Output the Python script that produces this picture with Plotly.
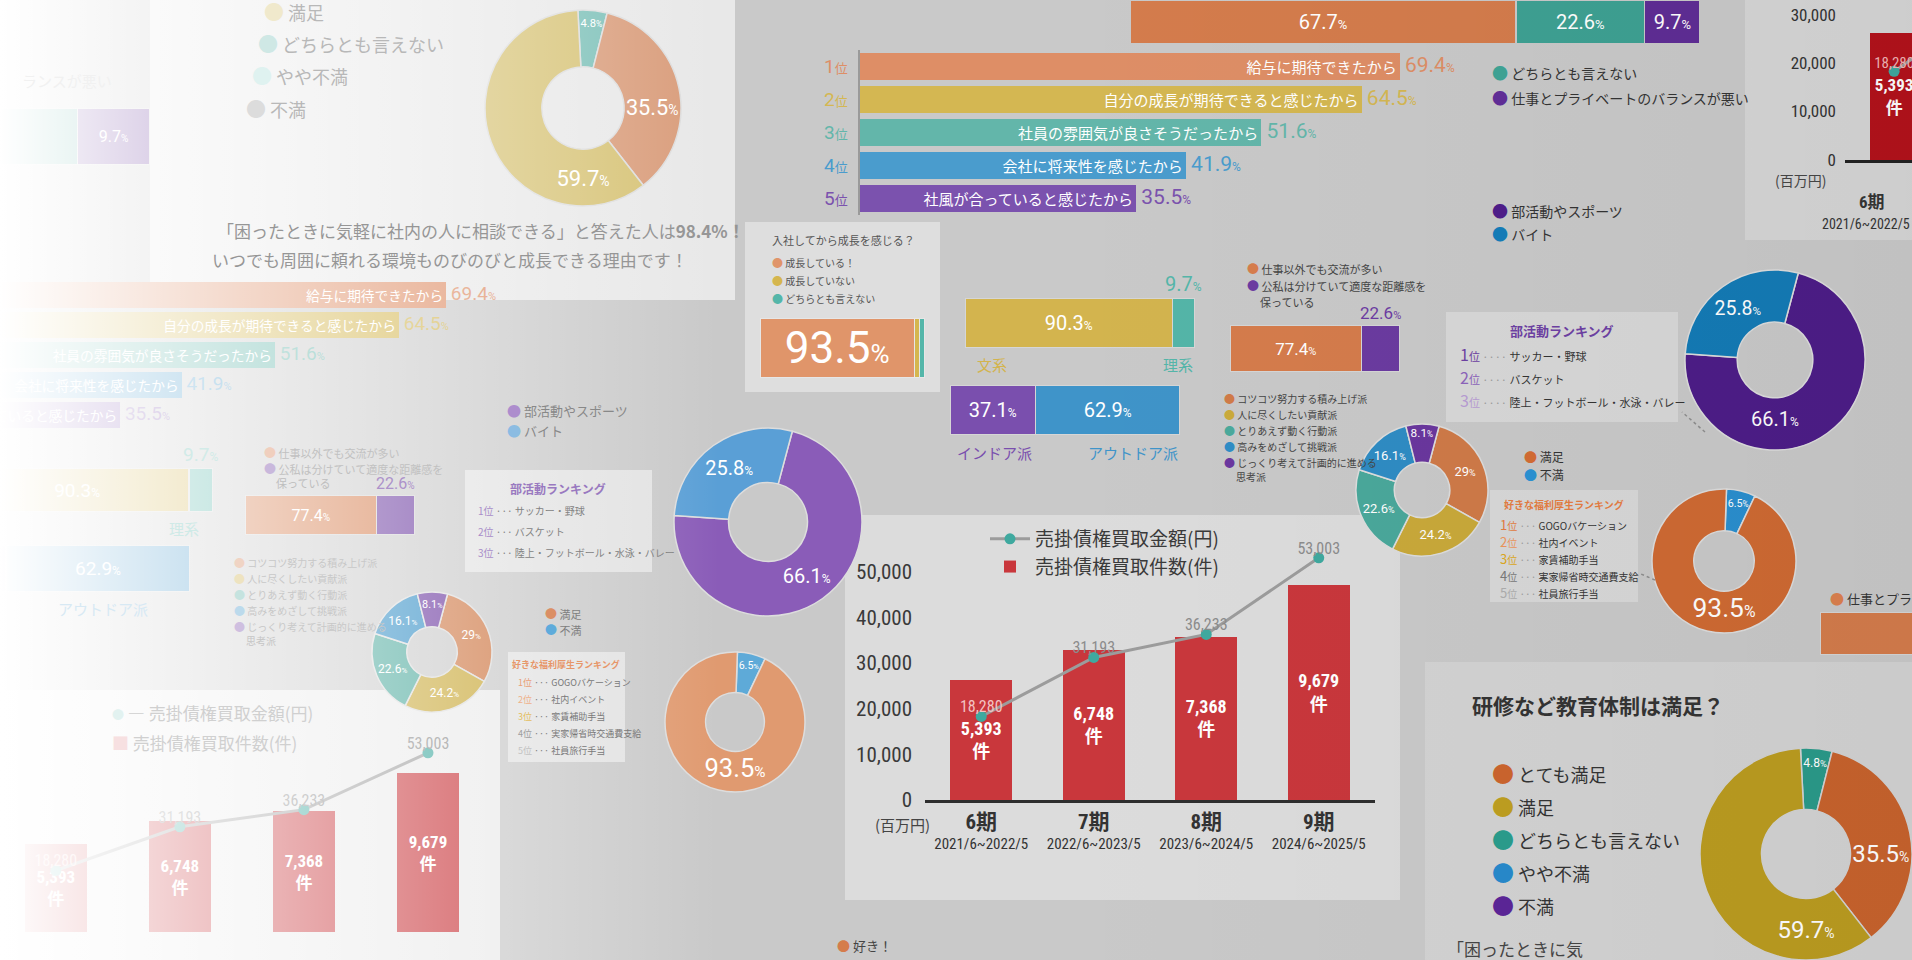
import base64
import plotly.graph_objects as go

W, H = 1912, 960
JP = "Noto Sans CJK JP, Noto Sans, sans-serif"
NUM = "Liberation Sans Narrow, Roboto Condensed, Roboto, Noto Sans CJK JP, sans-serif"
PCT = "Roboto, Noto Sans CJK JP, sans-serif"

# ---------------- data ----------------
periods = ["6期", "7期", "8期", "9期"]
period_ranges = ["2021/6~2022/5", "2022/6~2023/5", "2023/6~2024/5", "2024/6~2025/5"]
purchase_amount = [18280, 31193, 36233, 53003]   # 売掛債権買取金額
purchase_count = [5393, 6748, 7368, 9679]       # 売掛債権買取件数
amount_ticks = [0, 10000, 20000, 30000, 40000, 50000]
COUNT_PER_AMOUNT = 9679 / 47000                  # bar scale

reason_ranks = ["1位", "2位", "3位", "4位", "5位"]
reason_labels = ["給与に期待できたから", "自分の成長が期待できると感じたから",
                 "社員の雰囲気が良さそうだったから", "会社に将来性を感じたから",
                 "社風が合っていると感じたから"]
reason_values = [69.4, 64.5, 51.6, 41.9, 35.5]

balance_labels = ["バランスが良い", "どちらとも言えない", "仕事とプライベートのバランスが悪い"]
balance_values = [67.7, 22.6, 9.7]

growth_labels = ["成長している！", "成長していない", "どちらとも言えない"]
growth_values = [93.5, 3.2, 3.3]

major_labels = ["文系", "理系"]
major_values = [90.3, 9.7]
style_labels = ["インドア派", "アウトドア派"]
style_values = [37.1, 62.9]

relation_labels = ["仕事以外でも交流が多い", "公私は分けていて適度な距離感を", "保っている"]
relation_values = [77.4, 22.6]

type_labels = ["コツコツ努力する積み上げ派", "人に尽くしたい貢献派", "とりあえず動く行動派",
               "高みをめざして挑戦派", "じっくり考えて計画的に進める", "思考派"]
type_values = [29, 24.2, 22.6, 16.1, 8.1]

club_labels = ["部活動やスポーツ", "バイト"]
club_values = [66.1, 25.8]
club_rank = ["サッカー・野球", "バスケット", "陸上・フットボール・水泳・バレー"]

welfare_labels = ["満足", "不満"]
welfare_values = [93.5, 6.5]
welfare_rank = ["GOGOバケーション", "社内イベント", "家賃補助手当", "実家帰省時交通費支給", "社員旅行手当"]

training_title = "研修など教育体制は満足？"
training_labels = ["とても満足", "満足", "どちらとも言えない", "やや不満", "不満"]
training_pie_labels = ["どちらとも言えない", "とても満足", "満足"]
training_pie_values = [4.8, 35.5, 59.7]

# ---------------- colours ----------------
rank_colors = ["#de8e66", "#d4b752", "#63b6aa", "#4a9ccd", "#7b52ae"]
balance_colors = ["#d47c4c", "#3ea193", "#5f2d95"]
growth_colors = ["#e0956a", "#d5b64e", "#54b6a9"]
major_colors = ["#d3b44e", "#54b5a8"]
style_colors = ["#7a4fae", "#3f94c9"]
relation_colors = ["#d57c4c", "#6b3ba0"]
type_colors = ["#cf7a48", "#c9a93a", "#4aa89b", "#2f8cc4", "#6a379e"]
club_colors = ["#4d1d88", "#147bb6"]
club_colors_light = ["#8a5cb8", "#5a9fd6"]
welfare_colors = ["#cf6a33", "#2a8fcf"]
welfare_colors_light = ["#e09a70", "#5eaad8"]
training_colors = ["#c8632d", "#bb9c20", "#2a9a8a", "#2787c8", "#5a2595"]
training_pie_colors = ["#2a9a8a", "#c8632d", "#bb9c20"]
soft_pie_colors = ["#7cc0b8", "#d99c7a", "#d6c274"]
rank5_colors = ["#e07a40", "#e8925a", "#d9a520", "#777777", "#aaaaaa"]


def fade(color, x):
    a = max(0.0, min(1.0, 1 - x / 720))
    c = color.lstrip("#")
    r, g, b = int(c[0:2], 16), int(c[2:4], 16), int(c[4:6], 16)
    r, g, b = (round(v + (255 - v) * a) for v in (r, g, b))
    return f"#{r:02x}{g:02x}{b:02x}"


def pct(v, small):
    return f"{v}<span style='font-size:{small}px'>%</span>"


fig = go.Figure()
axes = {}
ctr = [0]
annotations = []
shapes = []


def ax_key(ref):
    return ref[0] + "axis" + ref[1:]


def new_axes(x0, x1, y0, y1, xr, yr, xtype=None):
    ctr[0] += 1
    s = "" if ctr[0] == 1 else str(ctr[0])
    axes["xaxis" + s] = dict(domain=[max(0, x0 / W), min(1, x1 / W)], anchor="y" + s, range=xr,
                             visible=False, fixedrange=True, showgrid=False, zeroline=False,
                             automargin=False)
    if xtype:
        axes["xaxis" + s]["type"] = xtype
    axes["yaxis" + s] = dict(domain=[max(0, 1 - y1 / H), min(1, 1 - y0 / H)], anchor="x" + s, range=yr,
                             visible=False, fixedrange=True, showgrid=False, zeroline=False,
                             automargin=False)
    return "x" + s, "y" + s


def overlay_axis(xa, ya, yr):
    ctr[0] += 1
    s = str(ctr[0])
    axes["yaxis" + s] = dict(overlaying=ya, anchor=xa, range=yr, visible=False, fixedrange=True,
                             showgrid=False, zeroline=False, automargin=False)
    return "y" + s


def txt(x, y, s, size=14, color="#444444", anchor="left", family=JP, yanchor="middle", fx=None):
    c = fade(color, x if fx is None else fx)
    annotations.append(dict(x=x / W, y=1 - y / H, xref="paper", yref="paper", text=s, showarrow=False,
                            xanchor=anchor, yanchor=yanchor, font=dict(size=size, color=c, family=family)))


def dot(color, size, x):
    return f"<span style='color:{fade(color, x)};font-size:{size}px'>●</span>"


def card(x0, y0, x1, y1, color):
    shapes.append(dict(type="rect", xref="paper", yref="paper", x0=x0 / W, x1=x1 / W, y0=1 - y1 / H,
                       y1=1 - y0 / H, fillcolor=color, line=dict(width=0), layer="below"))


def combo_chart(x0, x1, y0, y1, xr, amt_range, bar_color, bar_font, label_font, label_colors,
                legend=False, clip=True, bar_width=0.55):
    xa, ya = new_axes(x0, x1, y0, y1, xr,
                      [amt_range[0] * COUNT_PER_AMOUNT, amt_range[1] * COUNT_PER_AMOUNT], xtype="category")
    yb = overlay_axis(xa, ya, amt_range)
    fig.add_trace(go.Scatter(x=periods, y=purchase_amount, xaxis=xa, yaxis=yb, mode="lines+markers",
                             name="売掛債権買取金額(円)", line=dict(color="#9c9c9c", width=3),
                             marker=dict(color="#3fa99f", size=11), showlegend=legend, hoverinfo="skip"))
    fig.add_trace(go.Bar(x=periods, y=purchase_count, xaxis=xa, yaxis=ya, name="売掛債権買取件数(件)",
                         marker=dict(color=bar_color, line=dict(width=0)), width=bar_width,
                         text=[f"<b>{c:,}<br>件</b>" for c in purchase_count], textposition="inside",
                         insidetextanchor="middle", textangle=0,
                         textfont=dict(color="white", size=bar_font, family=NUM),
                         showlegend=legend, hoverinfo="skip"))
    fig.add_trace(go.Scatter(x=periods, y=purchase_amount, xaxis=xa, yaxis=yb, mode="text",
                             text=[f"{v:,}" for v in purchase_amount], textposition="top center",
                             textfont=dict(color=label_colors, size=label_font, family=NUM),
                             cliponaxis=clip, showlegend=False, hoverinfo="skip"))
    return xa, ya, yb


def hstack(x0, x1, y0, y1, xr, values, colors, texts, tsize, line="#d6d6d6"):
    xa, ya = new_axes(x0, x1, y0, y1, xr, [-0.5, 0.5])
    for v, c, t in zip(values, colors, texts):
        fig.add_trace(go.Bar(x=[v], y=[0], orientation="h", xaxis=xa, yaxis=ya, width=1,
                             marker=dict(color=c, line=dict(color=line, width=1.5)), text=[t],
                             textposition="inside" if t else "none", insidetextanchor="middle",
                             textangle=0, textfont=dict(color="white", size=tsize, family=PCT),
                             showlegend=False, hoverinfo="skip"))
    return xa, ya


def donut(values, colors, texts, cx, cy, r, rotation, tsize, hole=0.42, line="#dddddd"):
    fig.add_trace(go.Pie(values=values, sort=False, direction="clockwise", rotation=rotation, hole=hole,
                         marker=dict(colors=colors, line=dict(color=line, width=1.5)), text=texts,
                         textinfo="text", textposition="inside", insidetextorientation="horizontal",
                         textfont=dict(color="white", size=tsize, family=PCT), automargin=False,
                         domain=dict(x=[max(0, (cx - r) / W), min(1, (cx + r) / W)],
                                     y=[max(0, 1 - (cy + r) / H), min(1, 1 - (cy - r) / H)]),
                         showlegend=False, hoverinfo="skip"))


def ranking(x0, x1, y0, y1, xr, tsize, lsize, show_ranks):
    xa, ya = new_axes(x0, x1, y0, y1, xr, [4.5, -0.5])
    idx = list(range(len(reason_values)))
    fig.add_trace(go.Bar(x=reason_values, y=idx, orientation="h", xaxis=xa, yaxis=ya, width=0.84,
                         marker=dict(color=rank_colors, line=dict(width=0)), text=reason_labels,
                         textposition="inside", insidetextanchor="end", textangle=0,
                         textfont=dict(color="white", size=tsize, family=JP), showlegend=False,
                         hoverinfo="skip"))
    fig.add_trace(go.Scatter(x=reason_values, y=idx, mode="text", xaxis=xa, yaxis=ya,
                             text=[" " + pct(v, int(lsize * 0.6)) for v in reason_values],
                             textposition="middle right",
                             textfont=dict(color=rank_colors, size=lsize, family=PCT),
                             cliponaxis=False, showlegend=False, hoverinfo="skip"))
    if show_ranks:
        axes[ax_key(ya)].update(visible=True, showline=True, linecolor="#9a9a9a", linewidth=2,
                                showticklabels=False, ticks="")
        for i, (r, c) in enumerate(zip(reason_ranks, rank_colors)):
            annotations.append(dict(xref="paper", yref=ya, x=850 / W, y=i,
                                    text=f"<span style='font-size:19px'>{r[0]}</span>{r[1:]}",
                                    showarrow=False, xanchor="right",
                                    font=dict(size=13, color=c, family=PCT)))
    return xa, ya


def ax_label(xa, ya, x, y, s, size, color, yanchor="bottom"):
    annotations.append(dict(xref=xa, yref=ya, x=x, y=y, text=s, showarrow=False, yanchor=yanchor,
                            font=dict(size=size, color=color, family=PCT)))


# ---------------- cards (backgrounds) ----------------
card(150, 0, 735, 300, "#e8e8e8")
card(0, 690, 500, 960, "#ebebeb")
card(465, 470, 652, 572, "#e2e2e2")
card(508, 652, 625, 762, "#e2e2e2")
card(745, 222, 940, 392, "#dedede")
card(845, 515, 1400, 900, "#dcdcdc")
card(1446, 312, 1678, 422, "#d8d8d8")
card(1490, 490, 1638, 602, "#d8d8d8")
card(1745, 0, 1912, 240, "#d6d6d6")
card(1425, 662, 1912, 960, "#d3d3d3")

# ---------------- top-left card (faded) ----------------
donut(training_pie_values, soft_pie_colors,
      [pct(v, 14) for v in training_pie_values], 583, 108, 98, -3, [18, 22, 22])
for i, (lab, c) in enumerate(zip(["満足", "どちらとも言えない", "やや不満", "不満"],
                                 ["#d6c274", "#7cc0b8", "#a8dad6", "#a0a0a0"])):
    txt(262 - 6 * i, 12 + 32 * i, dot(c, 20, 262) + " " + lab, size=18, color="#555555", fx=300)
txt(215, 230, "「困ったときに気軽に社内の人に相談できる」と答えた人は<b>98.4%！</b>", size=17,
    color="#505050", fx=430)
txt(210, 260, "いつでも周囲に頼れる環境ものびのびと成長できる理由です！", size=17, color="#505050", fx=430)
txt(20, 80, "ランスが悪い", size=15, color="#555555", fx=60)
hstack(0, 150, 108, 165, [80, 100], balance_values, balance_colors, ["", "", pct(9.7, 10)], 16)

# ---------------- left faded copies ----------------
ranking(0, 500, 280, 430, [23, 75], 15, 19, False)
txt(505, 410, dot(club_colors_light[0], 14, 505) + " " + club_labels[0], size=13, color="#555555")
txt(505, 430, dot(club_colors_light[1], 14, 505) + " " + club_labels[1], size=13, color="#555555")

xa, ya = hstack(0, 213, 468, 512, [14, 100], major_values, major_colors, [pct(90.3, 12), ""], 19)
ax_label(xa, ya, 95.15, 0.5, pct(9.7, 12), 19, fade(major_colors[1], 190))
txt(201, 528, "理系", size=15, color=major_colors[1], anchor="right")
xa, ya = hstack(0, 190, 545, 592, [35, 100], style_values, style_colors, ["", pct(62.9, 12)], 19)
txt(150, 608, "アウトドア派", size=15, color=style_colors[1], anchor="right")

txt(262, 452, dot(relation_colors[0], 12, 262) + " " + relation_labels[0], size=11, color="#555555")
txt(262, 468, dot(relation_colors[1], 12, 262) + " " + relation_labels[1], size=11, color="#555555")
txt(274, 483, relation_labels[2], size=11, color="#555555")
xa, ya = hstack(245, 415, 495, 535, [0, 100], relation_values, relation_colors, [pct(77.4, 10), ""], 16)
ax_label(xa, ya, 88.7, 0.5, pct(22.6, 10), 16, fade(relation_colors[1], 400))

for i in range(5):
    txt(232, 562 + 16 * i, dot(type_colors[i], 11, 232) + " " + type_labels[i], size=10, color="#555555")
txt(244, 640, type_labels[5], size=10, color="#555555")
donut(type_values, type_colors, [pct(v, 8) for v in type_values], 432, 652, 60, 15, 12)

txt(558, 488, "<b>部活動ランキング</b>", size=12, color="#7b52ae", anchor="center")
for i, name in enumerate(club_rank):
    txt(476, 510 + 21 * i, f"<span style='color:{fade('#7b52ae', 476)}'>{i + 1}位</span> ··· {name}",
        size=10, color="#444444")
txt(543, 613, dot(welfare_colors[0], 12, 543) + " 満足", size=11, color="#555555")
txt(543, 629, dot(welfare_colors[1], 12, 543) + " 不満", size=11, color="#555555")
txt(566, 664, "<b>好きな福利厚生ランキング</b>", size=9, color="#e07a40", anchor="center")
for i, name in enumerate(welfare_rank):
    txt(516, 682 + 17 * i, f"<span style='color:{fade(rank5_colors[i], 516)}'>{i + 1}位</span> ··· {name}",
        size=9, color="#444444")

donut(club_values, club_colors_light, [pct(v, 12) for v in club_values], 768, 522, 94, 15, 20)
donut(welfare_values[::-1], welfare_colors_light[::-1], [pct(6.5, 10), pct(93.5, 18)], 735, 722, 70, 2,
      [14, 30])

combo_chart(0, 490, 700, 960, [-0.45, 3.5], [-8140, 68600], "#c9373c", 17, 16,
            ["#f3c3c3", "#8c8c8c", "#8c8c8c", "#8c8c8c"], clip=False, bar_width=0.5)
txt(110, 712, dot("#3fa99f", 12, 110) + " ― 売掛債権買取金額(円)", size=17, color="#555555", fx=200)
txt(110, 742, f"<span style='color:{fade('#c9373c', 110)}'>■</span> 売掛債権買取件数(件)", size=17,
    color="#555555", fx=200)
txt(835, 945, dot("#d57c4c", 13, 835) + " 好き！", size=13, color="#444444")

# ---------------- centre / right cards ----------------
ranking(860, 1420, 50, 215, [0, 72], 18, 21, True)

hstack(1130, 1700, 0, 44, [0, 100], balance_values, balance_colors,
       [pct(v, 13) for v in balance_values], 20, line="#c9c9c9")
txt(1490, 72, dot(balance_colors[1], 16, 1490) + " " + balance_labels[1], size=14, color="#333333")
txt(1490, 97, dot(balance_colors[2], 16, 1490) + " " + balance_labels[2], size=14, color="#333333")
txt(1490, 210, dot(club_colors[0], 16, 1490) + " " + club_labels[0], size=14, color="#333333")
txt(1490, 233, dot(club_colors[1], 16, 1490) + " " + club_labels[1], size=14, color="#333333")

# growth card
txt(770, 240, "入社してから成長を感じる？", size=11, color="#555555")
for i, lab in enumerate(growth_labels):
    txt(770, 262 + 18 * i, dot(growth_colors[i], 11, 770) + " " + lab, size=10, color="#555555")
hstack(760, 925, 318, 378, [0, 100], growth_values, growth_colors, [pct(93.5, 26), "", ""], 44,
       line="#e6e6e6")

# major / style bars
xa, ya = hstack(965, 1195, 298, 348, [0, 100], major_values, major_colors, [pct(90.3, 12), ""], 20)
ax_label(xa, ya, 95.15, 0.5, pct(9.7, 12), 20, major_colors[1])
txt(975, 364, major_labels[0], size=15, color=major_colors[0])
txt(1195, 364, major_labels[1], size=15, color=major_colors[1], anchor="right")
hstack(950, 1180, 385, 435, [0, 100], style_values, style_colors,
       [pct(v, 12) for v in style_values], 20)
txt(955, 452, style_labels[0], size=15, color=style_colors[0])
txt(1180, 452, style_labels[1], size=15, color=style_colors[1], anchor="right")

# relation bar
txt(1245, 268, dot(relation_colors[0], 12, 1245) + " " + relation_labels[0], size=11, color="#444444")
txt(1245, 286, dot(relation_colors[1], 12, 1245) + " " + relation_labels[1], size=11, color="#444444")
txt(1258, 302, relation_labels[2], size=11, color="#444444")
xa, ya = hstack(1230, 1400, 325, 372, [0, 100], relation_values, relation_colors, [pct(77.4, 11), ""], 17)
ax_label(xa, ya, 88.7, 0.5, pct(22.6, 11), 17, relation_colors[1])

# type donut
for i in range(5):
    txt(1222, 398 + 16 * i, dot(type_colors[i], 11, 1222) + " " + type_labels[i], size=10, color="#444444")
txt(1234, 476, type_labels[5], size=10, color="#444444")
donut(type_values, type_colors, [pct(v, 9) for v in type_values], 1422, 490, 66, 15, 13)

# club ranking box + donut
txt(1562, 330, "<b>部活動ランキング</b>", size=13, color="#6b3fa0", anchor="center")
for i, name in enumerate(club_rank):
    rc = ["#6b3fa0", "#8a62b8", "#b59ad0"][i]
    txt(1458, 354 + 23 * i,
        f"<span style='color:{rc};font-size:16px'>{i + 1}</span><span style='color:{rc}'>位</span>"
        f" <span style='color:#999999'>····</span> {name}", size=11, color="#333333")
donut(club_values, club_colors, [pct(v, 12) for v in club_values], 1775, 360, 90, 15, 20)
shapes.append(dict(type="line", xref="paper", yref="paper", x0=1705 / W, y0=1 - 432 / H, x1=1682 / W,
                   y1=1 - 412 / H, line=dict(color="#8a8a8a", width=1.5, dash="dot")))

# welfare
txt(1522, 456, dot(welfare_colors[0], 13, 1522) + " " + welfare_labels[0], size=12, color="#333333")
txt(1522, 474, dot(welfare_colors[1], 13, 1522) + " " + welfare_labels[1], size=12, color="#333333")
txt(1564, 505, "<b>好きな福利厚生ランキング</b>", size=10, color="#e07a40", anchor="center")
for i, name in enumerate(welfare_rank):
    txt(1498, 524 + 17 * i,
        f"<span style='color:{rank5_colors[i]};font-size:13px'>{i + 1}</span>"
        f"<span style='color:{rank5_colors[i]}'>位</span> <span style='color:#999999'>···</span> {name}",
        size=10, color="#333333")
donut(welfare_values[::-1], welfare_colors[::-1], [pct(6.5, 10), pct(93.5, 18)], 1724, 561, 72, 2,
      [13, 30])
shapes.append(dict(type="line", xref="paper", yref="paper", x0=1655 / W, y0=1 - 580 / H, x1=1641 / W,
                   y1=1 - 574 / H, line=dict(color="#8a8a8a", width=1.5, dash="dot")))

# bottom-right edge bar
txt(1828, 598, dot(balance_colors[0], 14, 1828) + " 仕事とプライベ", size=13, color="#333333")
hstack(1820, 1912, 612, 655, [0, 30], balance_values[:1], balance_colors[:1], [""], 12)

# main combo chart
xN, yN, yNa = combo_chart(925, 1375, 535, 800, [-0.5, 3.5], [0, 58000], "#c9373c", 18, 16,
                          ["#f3c3c3", "#8c8c8c", "#8c8c8c", "#8c8c8c"], legend=True, clip=False)
axes[ax_key(xN)].update(visible=True, showline=True, linecolor="#2e2e2e", linewidth=3, ticks="",
                        tickvals=periods,
                        ticktext=[f"<span style='font-size:21px'><b>{p}</b></span><br>{r}"
                                  for p, r in zip(periods, period_ranges)],
                        tickfont=dict(size=15, color="#333333", family=NUM), ticklabelstandoff=8)
axes[ax_key(yNa)].update(visible=True, showline=False, tickvals=amount_ticks,
                         ticktext=[f"{v:,}" for v in amount_ticks],
                         tickfont=dict(size=21, color="#3a3a3a", family=NUM), ticks="",
                         ticklabelstandoff=12, side="left")
txt(902, 824, "(百万円)", size=15, color="#444444", anchor="center")

# top-right partial chart
xD, yD, yDa = combo_chart(1845, 1912, 0, 160, [-0.55, 0.2], [0, 33000], "#b3121b", 17, 15,
                          ["#f0b5b5", "#8c8c8c", "#8c8c8c", "#8c8c8c"], clip=True)
axes[ax_key(xD)].update(visible=True, showline=True, linecolor="#222222", linewidth=3,
                        showticklabels=False, ticks="")
axes[ax_key(yDa)].update(visible=True, showline=False, tickvals=amount_ticks[:4],
                         ticktext=[f"{v:,}" for v in amount_ticks[:4]],
                         tickfont=dict(size=17, color="#333333", family=NUM), ticks="",
                         ticklabelstandoff=8, side="left")
txt(1800, 180, "(百万円)", size=14, color="#444444", anchor="center")
txt(1872, 202, "<b>6期</b>", size=17, color="#333333", anchor="center", family=NUM)
txt(1866, 224, period_ranges[0], size=14, color="#333333", anchor="center", family=NUM)

# training card
txt(1470, 705, f"<b>{training_title}</b>", size=21, color="#333333")
for i, lab in enumerate(training_labels):
    txt(1490, 772 + 33 * i, dot(training_colors[i], 22, 1490) + " " + lab, size=18, color="#333333")
donut(training_pie_values, training_pie_colors, [pct(v, 14) for v in training_pie_values],
      1806, 854, 106, -3, [18, 24, 24], line="#d3d3d3")
txt(1445, 948, "「困ったときに気", size=17, color="#444444")

# ---------------- white fade (left) and slight shade (right) overlay ----------------
svg = (f"<svg xmlns='http://www.w3.org/2000/svg' width='{W}' height='{H}' viewBox='0 0 {W} {H}' "
       f"preserveAspectRatio='none'><defs>"
       f"<linearGradient id='g' x1='0' y1='0' x2='{W}' y2='0' gradientUnits='userSpaceOnUse'>"
       f"<stop offset='0' stop-color='#ffffff' stop-opacity='1'/>"
       f"<stop offset='0.376' stop-color='#ffffff' stop-opacity='0'/></linearGradient>"
       f"<linearGradient id='d' x1='0' y1='0' x2='{W}' y2='0' gradientUnits='userSpaceOnUse'>"
       f"<stop offset='0.55' stop-color='#000000' stop-opacity='0'/>"
       f"<stop offset='1' stop-color='#000000' stop-opacity='0.04'/></linearGradient></defs>"
       f"<rect width='{W}' height='{H}' fill='url(#d)'/>"
       f"<rect width='{W}' height='{H}' fill='url(#g)'/></svg>")
src = "data:image/svg+xml;base64," + base64.b64encode(svg.encode()).decode()

fig.update_layout(**axes)
fig.update_layout(
    width=W, height=H, margin=dict(l=0, r=0, t=0, b=0, pad=0, autoexpand=False), autosize=False,
    paper_bgcolor="#c9c9c9", plot_bgcolor="rgba(0,0,0,0)", barmode="stack",
    font=dict(family=JP),
    legend=dict(x=985 / W, y=1 - 520 / H, xanchor="left", yanchor="top", bgcolor="rgba(0,0,0,0)",
                font=dict(size=19, color="#3a3a3a", family=JP), itemwidth=40, tracegroupgap=2,
                traceorder="normal"),
    annotations=annotations, shapes=shapes,
    images=[dict(source=src, xref="paper", yref="paper", x=0, y=1, sizex=1, sizey=1, xanchor="left",
                 yanchor="top", sizing="stretch", layer="above")],
)
fig.write_html("out.html")
